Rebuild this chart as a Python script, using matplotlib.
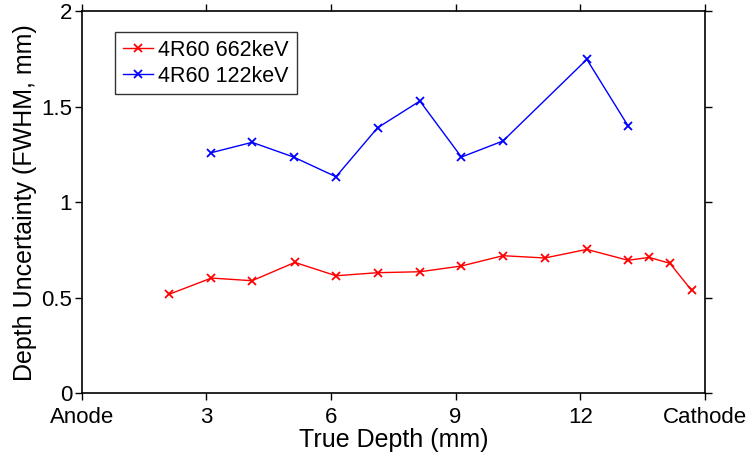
import matplotlib
matplotlib.use("Agg")
import matplotlib.pyplot as plt

plt.rcParams['font.family'] = ['Liberation Sans', 'DejaVu Sans']

x_662 = [2.1, 3.12, 4.1, 5.13, 6.12, 7.12, 8.14, 9.14, 10.14, 11.15, 12.16, 13.15, 13.66, 14.16, 14.68]
y_662 = [0.518, 0.603, 0.589, 0.685, 0.615, 0.631, 0.636, 0.666, 0.720, 0.708, 0.753, 0.696, 0.711, 0.680, 0.539]
x_122 = [3.12, 4.1, 5.1, 6.12, 7.12, 8.14, 9.14, 10.14, 12.16, 13.15]
y_122 = [1.259, 1.313, 1.236, 1.133, 1.389, 1.529, 1.236, 1.320, 1.747, 1.400]

xticks = [0, 3, 6, 9, 12, 15]
xticklabels = ['Anode', '3', '6', '9', '12', 'Cathode']
yticks = [0, 0.5, 1, 1.5, 2]
yticklabels = ['0', '0.5', '1', '1.5', '2']

fig = plt.figure(figsize=(7.49, 4.59), dpi=100)
ax = fig.add_axes([0.1092, 0.1431, 0.8318, 0.8329])
ax.plot(x_662, y_662, color='red', marker='x', lw=1.0, ms=5.5, mew=1.3, label='4R60 662keV')
ax.plot(x_122, y_122, color='blue', marker='x', lw=1.0, ms=5.5, mew=1.3, label='4R60 122keV')
ax.set_xlim(0, 15)
ax.set_ylim(0, 2)
ax.set_xticks(xticks)
ax.set_xticklabels(xticklabels)
ax.set_yticks(yticks)
ax.set_yticklabels(yticklabels)
ax.tick_params(direction='out', length=5, width=1, labelsize=16, top=True, right=True, pad=2)
ax.tick_params(axis='x', pad=4.5)
for s in ax.spines.values():
    s.set_linewidth(1.2)
ax.set_xlabel('True Depth (mm)', fontsize=18, labelpad=0)
ax.set_ylabel('Depth Uncertainty (FWHM, mm)', fontsize=18, labelpad=3)
leg = ax.legend(loc='upper left', bbox_to_anchor=(0.054, 0.945), fontsize=15.5, frameon=True, fancybox=False,
                edgecolor='black', handlelength=1.4, handletextpad=0.25, borderpad=0.35, labelspacing=0.25,
                borderaxespad=0)
leg.get_frame().set_linewidth(1.0)
fig.savefig('out.png', dpi=100)
